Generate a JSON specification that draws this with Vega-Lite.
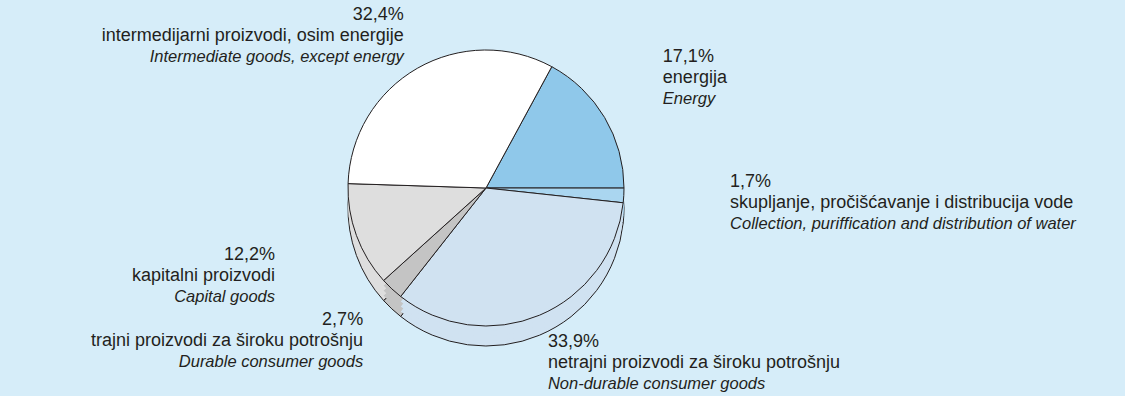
{
  "$schema": "https://vega.github.io/schema/vega-lite/v6.json",
  "width": 972,
  "height": 376,
  "autosize": {"type": "none"},
  "padding": {"left": 0, "top": 0, "right": 153, "bottom": 20},
  "background": "#d6edf9",
  "config": {"view": {"stroke": null}, "font": "Liberation Sans"},
  "data": {
    "values": [
      {"idx": 1, "key": "energy", "value": 17.1, "pct": "17,1%", "hr": "energija", "en": "Energy"},
      {"idx": 2, "key": "water", "value": 1.7, "pct": "1,7%", "hr": "skupljanje, pročišćavanje i distribucija vode", "en": "Collection, puriffication and distribution of water"},
      {"idx": 3, "key": "nondurable", "value": 33.9, "pct": "33,9%", "hr": "netrajni proizvodi za široku potrošnju", "en": "Non-durable consumer goods"},
      {"idx": 4, "key": "durable", "value": 2.7, "pct": "2,7%", "hr": "trajni proizvodi za široku potrošnju", "en": "Durable consumer goods"},
      {"idx": 5, "key": "capital", "value": 12.2, "pct": "12,2%", "hr": "kapitalni proizvodi", "en": "Capital goods"},
      {"idx": 6, "key": "intermediate", "value": 32.4, "pct": "32,4%", "hr": "intermedijarni proizvodi, osim energije", "en": "Intermediate goods, except energy"}
    ]
  },
  "encoding": {
    "theta": {"field": "value", "type": "quantitative", "stack": true, "scale": {"range": [0.497, 6.780]}},
    "order": {"field": "idx", "type": "quantitative"},
    "color": {
      "field": "key",
      "type": "nominal",
      "scale": {
        "domain": ["energy", "water", "nondurable", "durable", "capital", "intermediate"],
        "range": ["#8fc8ea", "#aad6f0", "#d0e2f1", "#c4c4c4", "#dedede", "#ffffff"]
      },
      "legend": null
    }
  },
  "layer": [
    {"mark": {"type": "arc", "outerRadius": 138, "yOffset": 20, "stroke": "#231f20", "strokeWidth": 1}},
    {"mark": {"type": "arc", "outerRadius": 138, "yOffset": 15}},
    {"mark": {"type": "arc", "outerRadius": 138, "yOffset": 10}},
    {"mark": {"type": "arc", "outerRadius": 138, "yOffset": 5}},
    {"mark": {"type": "arc", "outerRadius": 138, "stroke": "#231f20", "strokeWidth": 1}},
    {
      "mark": {
        "type": "text",
        "fontSize": 18,
        "radius": {"expr": "245*152/sqrt(pow(152*sin(0.497+0.0628319*(datum.value_start+datum.value_end)/2),2)+pow(245*cos(0.497+0.0628319*(datum.value_start+datum.value_end)/2),2))"},
        "align": {"expr": "sin(0.497+0.0628319*(datum.value_start+datum.value_end)/2) > 0 ? 'left' : 'right'"},
        "dy": {"expr": "cos(0.497+0.0628319*(datum.value_start+datum.value_end)/2) > 0 ? -21-10*cos(0.497+0.0628319*(datum.value_start+datum.value_end)/2) : -21-30*cos(0.497+0.0628319*(datum.value_start+datum.value_end)/2)"}
      },
      "encoding": {"text": {"field": "pct"}, "color": {"value": "#231f20"}}
    },
    {
      "mark": {
        "type": "text",
        "fontSize": 18,
        "radius": {"expr": "245*152/sqrt(pow(152*sin(0.497+0.0628319*(datum.value_start+datum.value_end)/2),2)+pow(245*cos(0.497+0.0628319*(datum.value_start+datum.value_end)/2),2))"},
        "align": {"expr": "sin(0.497+0.0628319*(datum.value_start+datum.value_end)/2) > 0 ? 'left' : 'right'"},
        "dy": {"expr": "21 + (cos(0.497+0.0628319*(datum.value_start+datum.value_end)/2) > 0 ? -21-10*cos(0.497+0.0628319*(datum.value_start+datum.value_end)/2) : -21-30*cos(0.497+0.0628319*(datum.value_start+datum.value_end)/2))"}
      },
      "encoding": {"text": {"field": "hr"}, "color": {"value": "#231f20"}}
    },
    {
      "mark": {
        "type": "text",
        "fontSize": 16.5,
        "fontStyle": "italic",
        "radius": {"expr": "245*152/sqrt(pow(152*sin(0.497+0.0628319*(datum.value_start+datum.value_end)/2),2)+pow(245*cos(0.497+0.0628319*(datum.value_start+datum.value_end)/2),2))"},
        "align": {"expr": "sin(0.497+0.0628319*(datum.value_start+datum.value_end)/2) > 0 ? 'left' : 'right'"},
        "dy": {"expr": "42 + (cos(0.497+0.0628319*(datum.value_start+datum.value_end)/2) > 0 ? -21-10*cos(0.497+0.0628319*(datum.value_start+datum.value_end)/2) : -21-30*cos(0.497+0.0628319*(datum.value_start+datum.value_end)/2))"}
      },
      "encoding": {"text": {"field": "en"}, "color": {"value": "#231f20"}}
    }
  ]
}
